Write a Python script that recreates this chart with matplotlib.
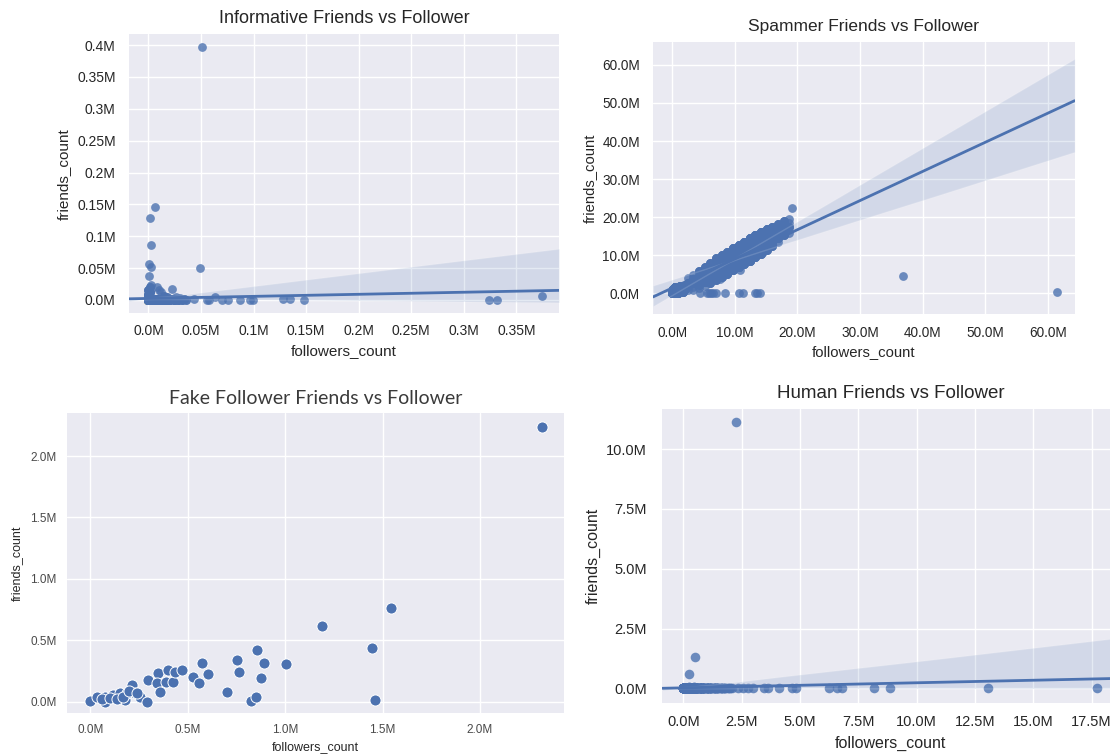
import numpy as np
import matplotlib
matplotlib.use("Agg")
import matplotlib.pyplot as plt
import seaborn as sns
from matplotlib.ticker import FuncFormatter, MultipleLocator

# ---------------------------------------------------------------
# Data (values in millions). *_count = number of accounts sitting
# on (almost) the same spot, estimated from the density of marks.
# ---------------------------------------------------------------

# Informative accounts
inf_followers = [0.000, 0.001, 0.002, 0.003, 0.004, 0.005, 0.006, 0.007, 0.008, 0.009,
                 0.010, 0.012, 0.014, 0.016, 0.018, 0.020, 0.022, 0.024, 0.026, 0.028,
                 0.030, 0.032, 0.034, 0.036,
                 0.000, 0.000, 0.001, 0.000, 0.001, 0.002,
                 0.008, 0.010, 0.0124, 0.015, 0.018, 0.0225, 0.026, 0.030,
                 0.051, 0.0066, 0.0014, 0.0028, 0.0007, 0.002, 0.0005, 0.049,
                 0.0435, 0.0555, 0.058, 0.063, 0.070, 0.076, 0.087, 0.097, 0.099,
                 0.128, 0.135, 0.148, 0.3236, 0.332, 0.374]
inf_friends = [0.000, 0.000, 0.001, 0.000, 0.001, 0.000, 0.001, 0.000, 0.001, 0.000,
               0.001, 0.000, 0.001, 0.000, 0.001, 0.000, 0.001, 0.000, 0.001, 0.000,
               0.001, 0.000, 0.001, 0.000,
               0.004, 0.008, 0.012, 0.016, 0.020, 0.024,
               0.021, 0.016, 0.013, 0.006, 0.004, 0.018, 0.004, 0.003,
               0.397, 0.146, 0.128, 0.086, 0.056, 0.052, 0.0375, 0.0497,
               0.001, 0.000, 0.000, 0.004, 0.000, 0.000, 0.000, 0.000, 0.000,
               0.001, 0.001, 0.000, 0.000, 0.000, 0.0068]
inf_count = [60, 60, 50, 40, 40, 30, 30, 25, 25, 20,
             20, 15, 12, 10, 8, 8, 6, 6, 5, 4,
             4, 3, 3, 2,
             10, 6, 4, 3, 2, 1,
             1, 1, 1, 2, 2, 1, 1, 1,
             1, 1, 1, 1, 1, 1, 1, 1,
             1, 1, 1, 1, 1, 1, 1, 1, 1,
             1, 1, 1, 1, 1, 1]

# Spammer accounts
spam_followers = [
    # cluster at the origin
    0.0, 0.2, 0.4, 0.6, 0.8, 1.0, 1.2, 1.4, 1.6, 1.8, 2.0, 0.3, 1.1,
    # row with almost no friends
    3.3, 4.4, 5.6, 5.9, 6.2, 6.5, 7.0, 8.4, 10.6, 11.3, 13.2, 13.6, 14.0,
    # far outliers
    36.9, 61.5,
    # diagonal band
    2.5, 2.5, 2.5, 2.5,
    3.4, 3.4, 3.4, 3.4,
    4.3, 4.3, 4.3, 4.3, 4.3,
    5.2, 5.2, 5.2, 5.2, 5.2,
    6.1, 6.1, 6.1, 6.1, 6.1,
    7.0, 7.0, 7.0, 7.0, 7.0,
    7.9, 7.9, 7.9, 7.9, 7.9,
    8.8, 8.8, 8.8, 8.8, 8.8,
    9.7, 9.7, 9.7, 9.7, 9.7,
    10.6, 10.6, 10.6, 10.6, 10.6,
    11.5, 11.5, 11.5, 11.5, 11.5,
    12.4, 12.4, 12.4, 12.4, 12.4,
    13.3, 13.3, 13.3, 13.3, 13.3,
    14.2, 14.2, 14.2, 14.2, 14.2,
    15.1, 15.1, 15.1, 15.1, 15.1,
    16.0, 16.0, 16.0, 16.0, 16.0,
    16.9, 16.9, 16.9, 16.9, 16.9,
    17.8, 17.8, 17.8, 17.8,
    18.7, 18.7, 18.7, 18.7,
    19.2, 10.8, 14.5, 7.7]
spam_friends = [
    0.2, 1.0, 1.6, 0.4, 1.2, 0.1, 1.8, 0.6, 1.4, 0.3, 1.0, 0.0, 0.9,
    0.8, 0.0, 0.1, 0.0, 0.2, 0.0, 0.1, 0.0, 0.0, 0.1, 0.0, 0.1, 0.0,
    4.5, 0.35,
    3.9, 2.7, 1.9, 0.9,
    4.7, 3.7, 2.7, 1.6,
    5.8, 4.6, 3.5, 2.3, 1.3,
    6.9, 5.6, 4.4, 3.0, 1.9,
    8.0, 6.7, 5.3, 3.9, 2.7,
    9.2, 7.7, 6.2, 4.8, 3.5,
    10.0, 8.6, 7.1, 5.7, 4.4,
    10.9, 9.5, 8.0, 6.6, 5.2,
    11.8, 10.4, 8.9, 7.5, 6.1,
    12.6, 11.3, 9.8, 8.3, 6.9,
    13.5, 12.2, 10.7, 9.2, 7.7,
    14.4, 13.1, 11.6, 10.1, 8.6,
    15.3, 14.0, 12.5, 11.0, 9.5,
    16.1, 14.8, 13.3, 11.8, 10.4,
    16.8, 15.6, 14.2, 12.7, 11.4,
    17.4, 16.4, 15.0, 13.6, 12.4,
    18.1, 17.1, 15.8, 14.5, 13.4,
    18.9, 17.9, 16.6, 15.3,
    19.4, 18.5, 17.4, 15.9,
    22.3, 6.0, 10.8, 3.8]
spam_count = [
    12, 9, 8, 9, 8, 8, 6, 6, 5, 5, 5, 8, 6,
    1, 1, 1, 1, 1, 1, 1, 1, 1, 1, 1, 1, 1,
    1, 1,
    1, 3, 3, 1,
    1, 3, 3, 1,
    3, 4, 4, 3, 1,
    3, 4, 5, 4, 1,
    3, 5, 7, 5, 3,
    3, 7, 8, 7, 3,
    4, 8, 10, 8, 3,
    4, 9, 12, 9, 4,
    5, 10, 14, 10, 4,
    5, 12, 16, 12, 4,
    6, 13, 17, 13, 4,
    6, 13, 18, 13, 5,
    6, 13, 18, 13, 5,
    6, 12, 16, 12, 4,
    5, 9, 13, 9, 3,
    4, 7, 9, 7, 3,
    3, 4, 7, 4, 1,
    3, 3, 4, 3,
    1, 1, 3, 1,
    1, 1, 1, 1]

# Fake follower accounts
fake_followers = [0.000, 0.037, 0.076, 0.076, 0.119, 0.153, 0.179, 0.187, 0.213, 0.230,
                  0.256, 0.293, 0.298, 0.350, 0.344, 0.358, 0.389, 0.398, 0.427, 0.435,
                  0.469, 0.526, 0.560, 0.572, 0.606, 0.700, 0.755, 0.765, 0.857, 0.825,
                  0.851, 0.875, 0.892, 1.005, 1.188, 1.447, 1.461, 1.541, 2.316,
                  0.060, 0.100, 0.140, 0.170, 0.200, 0.240]
fake_friends = [0.006, 0.041, 0.041, 0.000, 0.055, 0.073, 0.014, 0.068, 0.136, 0.068,
                0.035, 0.000, 0.177, 0.231, 0.150, 0.076, 0.163, 0.258, 0.163, 0.244,
                0.258, 0.199, 0.150, 0.317, 0.223, 0.076, 0.339, 0.239, 0.421, 0.006,
                0.036, 0.195, 0.313, 0.304, 0.616, 0.440, 0.014, 0.762, 2.238,
                0.020, 0.030, 0.020, 0.040, 0.090, 0.070]

# Human accounts
hum_followers = [0.00, 0.05, 0.10, 0.15, 0.20, 0.30, 0.40, 0.50, 0.60, 0.70,
                 0.80, 0.90, 1.00, 1.10, 1.20, 1.30, 1.40, 1.50, 1.60, 1.70,
                 1.80, 1.90, 2.00, 2.10, 0.25, 0.45,
                 2.28, 0.49, 0.25,
                 2.33, 2.55, 2.78, 3.00, 3.45, 3.63, 4.09, 4.66, 4.81, 6.23,
                 6.61, 6.79, 8.18, 8.86, 13.07, 17.73]
hum_friends = [0.00, 0.01, 0.00, 0.01, 0.00, 0.01, 0.00, 0.01, 0.00, 0.01,
               0.00, 0.01, 0.00, 0.01, 0.00, 0.01, 0.00, 0.01, 0.00, 0.01,
               0.00, 0.01, 0.00, 0.01, 0.05, 0.04,
               11.13, 1.30, 0.61,
               0.00, 0.00, 0.00, 0.00, 0.00, 0.00, 0.00, 0.00, 0.00, 0.00,
               0.00, 0.00, 0.00, 0.00, 0.00, 0.00]
hum_count = [80, 60, 50, 40, 35, 30, 25, 20, 15, 12,
             10, 8, 8, 6, 6, 5, 5, 4, 4, 3,
             3, 2, 2, 1, 2, 2,
             1, 1, 1,
             1, 1, 1, 1, 1, 1, 1, 1, 1, 1,
             1, 1, 1, 1, 1, 1]

# ---------------------------------------------------------------
sns.set_style("darkgrid")
plt.rcParams["font.family"] = ["Liberation Sans", "DejaVu Sans"]
plt.rcParams["grid.linewidth"] = 1.0

BLUE = "#4C72B0"
TXT = "#262626"
W, H = 1110, 756

fig = plt.figure(figsize=(W / 100, H / 100), dpi=100, facecolor="white")


def add_ax(box):
    l, r, t, b = box
    return fig.add_axes([l / W, 1 - b / H, (r - l) / W, (b - t) / H])


fmt = FuncFormatter(lambda v, p: f"{round(v, 2) + 0.0}M")


def decorate(ax, box, xlim, ylim, step_x, step_y, title, title_cy, title_kw,
             xlab_cy, ylab_cx, lab_size, tick_size, padx, pady, tick_color=TXT):
    l, r, t, b = box
    w, h = r - l, b - t
    ax.set_xlim(xlim)
    ax.set_ylim(ylim)
    ax.xaxis.set_major_locator(MultipleLocator(step_x))
    ax.yaxis.set_major_locator(MultipleLocator(step_y))
    ax.xaxis.set_major_formatter(fmt)
    ax.yaxis.set_major_formatter(fmt)
    ax.tick_params(axis="x", length=0, pad=padx, labelsize=tick_size, labelcolor=tick_color)
    ax.tick_params(axis="y", length=0, pad=pady, labelsize=tick_size, labelcolor=tick_color)
    ax.set_title(title, y=(b - title_cy) / h, va="center", pad=0, **title_kw)
    ax.set_xlabel("followers_count", fontsize=lab_size, color=TXT)
    ax.xaxis.label.set_va("center")
    ax.xaxis.set_label_coords(0.5, (b - xlab_cy) / h)
    ax.set_ylabel("friends_count", fontsize=lab_size, color=TXT)
    ax.yaxis.label.set_va("center")
    ax.yaxis.set_label_coords((ylab_cx - l) / w, 0.5)
    for s in ax.spines.values():
        s.set_visible(False)


def reg(ax, xs, ys, counts, size):
    x = np.repeat(np.asarray(xs, float), counts)
    y = np.repeat(np.asarray(ys, float), counts)
    sns.regplot(x=x, y=y, ax=ax, color=BLUE, truncate=False, seed=0,
                scatter_kws=dict(s=size, alpha=0.8, linewidths=0),
                line_kws=dict(lw=2.0))


# ---- Informative ----
box1 = (129, 559, 34, 313.3)
ax1 = add_ax(box1)
ax1.set_xlim(-0.0185, 0.3905)
ax1.set_ylim(-0.0209, 0.4173)
reg(ax1, inf_followers, inf_friends, inf_count, 40)
decorate(ax1, box1, (-0.0185, 0.3905), (-0.0209, 0.4173), 0.05, 0.05,
         "Informative Friends vs Follower", 18.3, dict(fontsize=13, color=TXT),
         350.7, 63.6, 11, 10, 7.5, 9.6)

# ---- Spammer ----
box2 = (653, 1074.6, 41.7, 314)
ax2 = add_ax(box2)
ax2.set_xlim(-3.07, 64.3)
ax2.set_ylim(-5.44, 66.1)
reg(ax2, spam_followers, spam_friends, spam_count, 40)
decorate(ax2, box2, (-3.07, 64.3), (-5.44, 66.1), 10, 10,
         "Spammer Friends vs Follower", 26.7, dict(fontsize=12.5, color=TXT),
         351.7, 589.8, 10.7, 9.8, 8.3, 9.4)

# ---- Fake follower ----
box3 = (67.3, 563.6, 413.3, 713.3)
ax3 = add_ax(box3)
sns.scatterplot(x=fake_followers, y=fake_friends, ax=ax3, color=BLUE, s=64,
                edgecolor="white", linewidth=0.7)
decorate(ax3, box3, (-0.1175, 2.429), (-0.0944, 2.348), 0.5, 0.5,
         "Fake Follower Friends vs Follower", 398.3,
         dict(fontsize=14, color="#3a3a3a", family=["Lato", "DejaVu Sans"]),
         746.7, 16.4, 9, 8.5, 7.6, 7.8, tick_color="#4a4a4a")

# ---- Human ----
box4 = (662.4, 1119.3, 409.3, 702.7)
ax4 = add_ax(box4)
ax4.set_xlim(-0.896, 18.69)
ax4.set_ylim(-0.60, 11.66)
reg(ax4, hum_followers, hum_friends, hum_count, 48)
decorate(ax4, box4, (-0.896, 18.69), (-0.60, 11.66), 2.5, 2.5,
         "Human Friends vs Follower", 393.3, dict(fontsize=13.5, color=TXT),
         743.3, 593.3, 11.5, 10.5, 9.0, 11.0)

fig.savefig("out.png", dpi=100, facecolor="white")
